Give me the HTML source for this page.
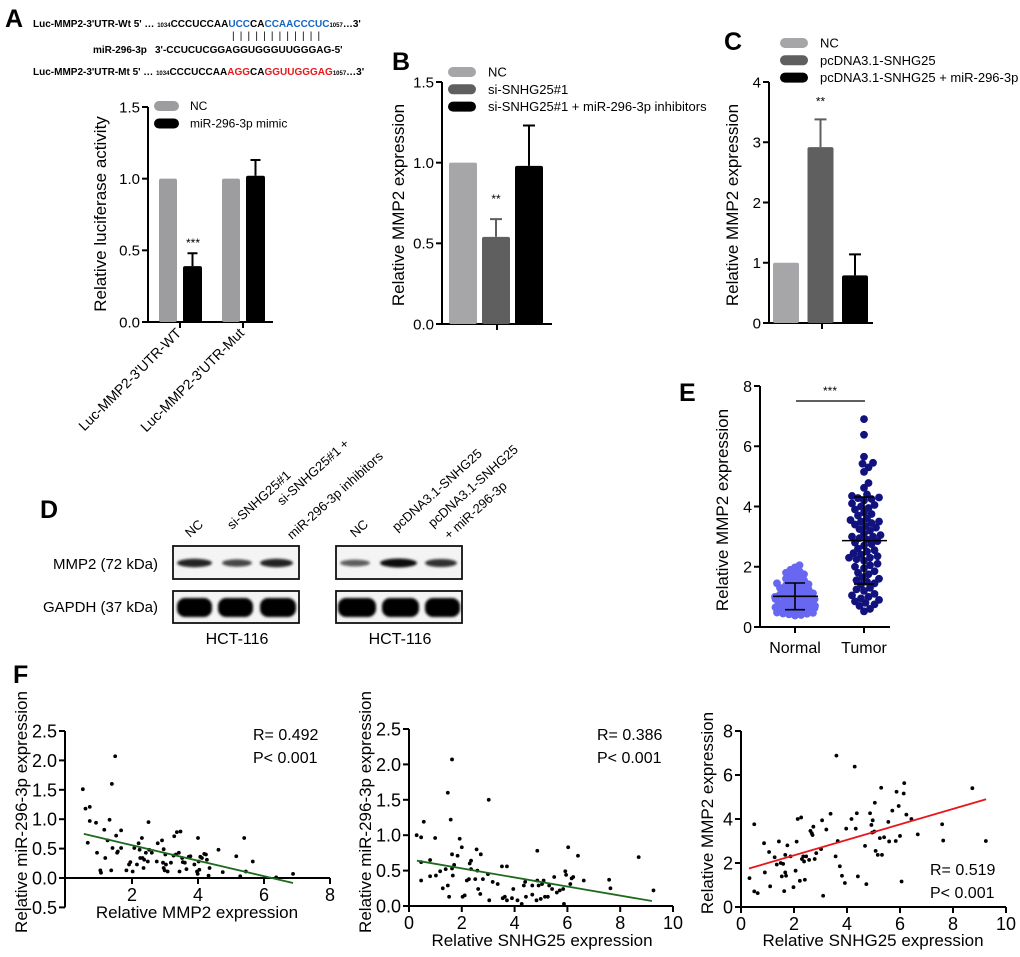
<!DOCTYPE html>
<html><head><meta charset="utf-8"><style>
html,body{margin:0;padding:0;background:#fff;}
svg{display:block;font-family:"Liberation Sans",Arial,sans-serif;}
</style></head><body>
<svg id="fig" width="1020" height="957" viewBox="0 0 1020 957" xmlns="http://www.w3.org/2000/svg">
<defs>
<filter id="blur1" x="-20%" y="-50%" width="140%" height="200%"><feGaussianBlur stdDeviation="1.3"/></filter>
</defs>
<g font-weight="bold" font-size="25" fill="#000">
<text x="5" y="27">A</text>
<text x="392" y="70">B</text>
<text x="724" y="50">C</text>
<text x="40" y="518">D</text>
<text x="679" y="401">E</text>
<text x="13" y="683">F</text>
</g>
<g font-weight="bold" font-size="10">
<text x="33" y="27">Luc-MMP2-3'UTR-Wt 5' … <tspan font-size="6">1034</tspan>CCCUCCAA<tspan fill="#1565c0">UCC</tspan>CA<tspan fill="#1565c0">CCAACCCUC</tspan><tspan font-size="6">1057</tspan>…3'</text>
<text x="232" y="39" font-weight="normal" font-size="10" letter-spacing="1.2">| | |      | | | | | | | | |</text>
<text x="93" y="53">miR-296-3p</text>
<text x="155" y="53">3'-CCUCUCGGAGGUGGGUUGGGAG-5'</text>
<text x="33" y="75">Luc-MMP2-3'UTR-Mt 5' … <tspan font-size="6">1034</tspan>CCCUCCAA<tspan fill="#e8161b">AGG</tspan>CA<tspan fill="#e8161b">GGUUGGGAG</tspan><tspan font-size="6">1057</tspan>…3'</text>
</g>
<g id="root"></g>
</svg>
<script>
// ---- Panel A data ----
const aCats = ["Luc-MMP2-3'UTR-WT", "Luc-MMP2-3'UTR-Mut"];
const aNC = [1.0, 1.0];
const aMimic = [0.39, 1.02];
const aMimicErr = [0.09, 0.11];
const aTicks = [0, 0.5, 1.0, 1.5];
const aTickLabels = ["0.0", "0.5", "1.0", "1.5"];
// ---- Panel B data ----
const bGroups = ["NC", "si-SNHG25#1", "si-SNHG25#1 + miR-296-3p inhibitors"];
const bVals = [1.0, 0.54, 0.98];
const bErr = [0, 0.11, 0.25];
const bTicks = [0, 0.5, 1.0, 1.5];
const bTickLabels = ["0.0", "0.5", "1.0", "1.5"];
// ---- Panel C data ----
const cGroups = ["NC", "pcDNA3.1-SNHG25", "pcDNA3.1-SNHG25 + miR-296-3p"];
const cVals = [1.0, 2.92, 0.79];
const cErr = [0, 0.46, 0.35];
const cTicks = [0, 1, 2, 3, 4];
// ---- Panel E data ----
const eNormal = [2.05,1.98,1.9,1.85,1.8,1.78,1.75,1.7,1.65,1.6,1.58,1.55,1.5,1.48,1.45,1.42,1.4,1.38,1.35,1.32,1.3,1.28,1.25,1.22,1.2,1.18,1.15,1.12,1.1,1.08,1.05,1.03,1.0,1.0,0.98,0.96,0.95,0.93,0.92,0.9,0.88,0.87,0.85,0.84,0.82,0.8,0.8,0.78,0.77,0.75,0.74,0.72,0.7,0.7,0.68,0.66,0.65,0.63,0.62,0.6,0.6,0.58,0.56,0.55,0.53,0.52,0.5,0.5,0.48,0.47,0.45,0.44,0.42,0.4,0.38];
const eTumor = [6.9,6.38,5.65,5.45,5.42,5.3,5.15,4.78,4.62,4.4,4.35,4.3,4.28,4.25,4.2,4.1,4.05,4.0,3.95,3.9,3.8,3.75,3.7,3.6,3.55,3.5,3.5,3.45,3.4,3.35,3.3,3.25,3.2,3.1,3.05,3.0,3.0,2.95,2.9,2.85,2.8,2.75,2.7,2.6,2.55,2.5,2.45,2.4,2.35,2.3,2.3,2.25,2.2,2.1,2.05,2.0,1.95,1.85,1.8,1.75,1.65,1.6,1.55,1.5,1.45,1.4,1.3,1.25,1.2,1.1,1.05,1.0,0.95,0.9,0.85,0.8,0.75,0.7,0.6,0.52];
const eTicks = [0, 2, 4, 6, 8];
// ---- Panel F1 data (MMP2 vs miR-296-3p) ----
const f1X = [0.51,0.59,0.66,0.72,0.72,0.91,0.94,1.04,1.06,1.16,1.19,1.26,1.32,1.37,1.39,1.41,1.49,1.52,1.55,1.57,1.67,1.67,1.83,1.91,1.95,2.02,2.07,2.15,2.2,2.23,2.25,2.3,2.32,2.35,2.37,2.42,2.48,2.5,2.52,2.6,2.75,2.78,2.91,2.94,2.96,2.96,2.99,3.01,3.03,3.08,3.18,3.26,3.28,3.33,3.36,3.42,3.44,3.47,3.52,3.54,3.6,3.65,3.72,3.77,3.89,3.97,3.99,4.0,4.02,4.04,4.07,4.12,4.19,4.24,4.27,4.32,4.35,4.62,4.75,5.16,5.28,5.4,5.45,5.66,6.37,6.88];
const f1Y = [1.51,1.18,0.6,1.21,0.97,0.94,0.43,0.13,0.09,0.82,0.34,0.64,0.99,0.13,1.6,0.51,2.07,0.72,0.43,0.45,0.81,0.51,0.13,0.23,0.27,0.11,0.51,0.23,0.59,0.48,0.34,0.68,0.34,0.17,0.31,0.43,0.28,0.95,0.48,0.43,0.28,0.59,0.64,0.26,0.49,0.17,0.13,0.4,0.23,0.11,0.26,0.38,0.71,0.4,0.78,0.43,0.11,0.79,0.34,0.27,0.26,0.15,0.36,0.37,0.23,0.11,0.07,0.68,0.28,0.14,0.36,0.34,0.41,0.4,0.31,0.04,0.17,0.48,0.1,0.37,0.03,0.68,0.11,0.28,0.01,0.07];
const f1Fit = [[0.54, 0.75], [6.88, -0.085]];
const f1XTicks = [2, 4, 6, 8];
const f1YTicks = [-0.5, 0, 0.5, 1.0, 1.5, 2.0, 2.5];
const f1YTickLabels = ["-0.5", "0.0", "0.5", "1.0", "1.5", "2.0", "2.5"];
const f1Stats = ["R= 0.492", "P< 0.001"];
// ---- Panel F2 data (SNHG25 vs miR-296-3p) ----
const f2X = [0.29,0.46,0.46,0.46,0.56,0.8,0.8,0.99,1.02,1.18,1.28,1.39,1.47,1.47,1.52,1.58,1.63,1.63,1.63,1.66,1.71,1.84,1.92,2.0,2.03,2.11,2.19,2.27,2.3,2.35,2.35,2.51,2.56,2.59,2.62,2.7,2.72,2.8,2.99,3.02,3.04,3.17,3.36,3.52,3.55,3.63,3.71,3.71,3.9,3.95,4.11,4.27,4.35,4.4,4.43,4.67,4.67,4.83,4.86,4.86,4.91,4.99,5.04,5.1,5.15,5.26,5.31,5.42,5.5,5.6,5.71,5.84,5.87,5.92,5.95,6.03,6.11,6.16,6.22,6.4,6.62,7.58,7.63,8.7,9.26];
const f2Y = [1.0,0.97,0.62,0.36,1.19,0.65,0.42,0.96,0.43,0.49,0.25,0.52,1.6,0.29,0.13,1.22,2.07,0.73,0.53,0.43,0.58,0.71,0.95,0.83,0.13,0.15,0.36,0.38,0.6,0.64,0.52,0.38,0.8,0.5,0.24,0.17,0.73,0.38,0.45,1.5,0.08,0.34,0.31,0.56,0.11,0.13,0.56,0.08,0.11,0.24,0.08,0.03,0.29,0.34,0.13,0.16,0.29,0.08,0.78,0.36,0.29,0.1,0.31,0.36,0.13,0.13,0.29,0.24,0.41,0.19,0.22,0.24,0.03,0.49,0.44,0.83,0.31,0.39,0.41,0.71,0.36,0.37,0.25,0.69,0.22];
const f2Fit = [[0.3, 0.64], [9.2, 0.07]];
const f2XTicks = [0, 2, 4, 6, 8, 10];
const f2YTicks = [0, 0.5, 1.0, 1.5, 2.0, 2.5];
const f2YTickLabels = ["0.0", "0.5", "1.0", "1.5", "2.0", "2.5"];
const f2Stats = ["R= 0.386", "P< 0.001"];
// ---- Panel F3 data (SNHG25 vs MMP2) ----
const f3X = [0.32,0.5,0.5,0.63,0.87,0.9,1.06,1.1,1.27,1.35,1.43,1.5,1.54,1.59,1.67,1.67,1.7,1.75,1.63,1.87,1.98,2.06,2.1,2.14,2.27,2.22,2.3,2.35,2.38,2.41,2.46,2.57,2.62,2.67,2.73,2.7,2.78,2.84,3.02,3.06,3.1,3.22,3.38,3.57,3.6,3.65,3.73,3.81,3.92,3.97,4.17,4.29,4.33,4.37,4.41,4.68,4.73,4.87,4.92,4.95,4.97,5.03,5.05,5.08,5.16,5.24,5.29,5.32,5.4,5.56,5.59,5.71,5.84,5.87,5.95,6.0,6.06,6.16,6.14,6.24,6.43,6.67,7.59,7.63,8.73,9.24];
const f3Y = [1.31,3.76,0.71,0.63,2.9,1.57,2.5,0.94,2.26,1.93,2.98,2.0,1.39,1.96,2.37,1.57,1.42,2.8,0.72,2.3,0.9,1.65,2.97,4.0,4.07,1.19,2.18,2.3,2.07,1.24,2.3,2.14,3.46,3.35,3.65,3.27,2.18,2.45,2.63,3.94,0.51,3.52,4.24,2.3,6.88,3.0,1.85,1.42,1.09,3.56,4.0,6.38,3.56,4.26,1.39,2.78,1.04,4.26,3.73,3.38,3.94,3.43,4.74,2.55,2.37,3.13,5.42,2.37,3.17,3.87,2.98,4.38,3.0,5.24,4.59,3.23,1.16,5.63,5.16,4.2,4.0,3.3,3.76,3.02,5.4,3.0];
const f3Fit = [[0.3, 1.75], [9.25, 4.9]];
const f3XTicks = [0, 2, 4, 6, 8, 10];
const f3YTicks = [0, 2, 4, 6, 8];
const f3Stats = ["R= 0.519", "P< 0.001"];

const NS = "http://www.w3.org/2000/svg";
const root = document.getElementById("root");
function mk(tag, attrs, parent) {
  const el = document.createElementNS(NS, tag);
  for (const k in attrs) el.setAttribute(k, attrs[k]);
  (parent || root).appendChild(el);
  return el;
}
function lin(d0, d1, r0, r1) { return v => r0 + (v - d0) * (r1 - r0) / (d1 - d0); }
function txt(x, y, s, size, extra, parent) {
  const a = Object.assign({x: x, y: y, "font-size": size, fill: "#000"}, extra || {});
  const t = mk("text", a, parent);
  t.textContent = s;
  return t;
}
function yAxis(g, x, y, ticks, labels, size, name) {
  const ax = mk("line", {x1: x, x2: x, y1: y(ticks[0]), y2: y(ticks[ticks.length - 1]), stroke: "#000", "stroke-width": 2}, g);
  
  
  ticks.forEach((t, i) => {
    const tk = mk("line", {x1: x - 6, x2: x, y1: y(t), y2: y(t), stroke: "#000", "stroke-width": 2}, g);
    
    
    const lb = txt(x - 8, y(t) + size * 0.36, labels[i], size, {"text-anchor": "end"}, g);
    
    
  });
}

// ================= Panel A =================
(function () {
  const g = mk("g", {});
  
  
  const y = lin(0, 1.5, 322, 107);
  yAxis(g, 148, y, aTicks, aTickLabels, 15, 'panel-a');
  const xa = mk("line", {x1: 147, x2: 273, y1: y(0), y2: y(0), stroke: "#000", "stroke-width": 2}, g);
  
  
  aCats.forEach((c, i) => {
    const cx = 180 + 63 * i;
    const b1 = mk("rect", {x: cx - 21, y: y(aNC[i]), width: 18, height: y(0) - y(aNC[i]), fill: "#9d9d9f", rx: 2}, g);
    
    
    const top = aMimic[i] + aMimicErr[i];
    const e = mk("path", {d: `M${cx + 12.5},${y(aMimic[i])}V${y(top)}M${cx + 7.5},${y(top)}H${cx + 17.5}`, stroke: "#000", "stroke-width": 2, fill: "none"}, g);
    
    
    const b2 = mk("rect", {x: cx + 3, y: y(aMimic[i]), width: 19, height: y(0) - y(aMimic[i]), fill: "#000", rx: 2}, g);
    
    
    const tk = mk("line", {x1: cx, x2: cx, y1: y(0), y2: y(0) + 6, stroke: "#000", "stroke-width": 2}, g);
    
    
    const lb = txt(cx + 2, y(0) + 12, c, 14, {"text-anchor": "end", transform: `rotate(-45 ${cx + 2} ${y(0) + 12})`}, g);
    
    
  });
  const st = txt(193, y(aMimic[0] + aMimicErr[0]) - 6, "***", 12, {"text-anchor": "middle"}, g);
  
  
  const yl = txt(0, 0, "Relative luciferase activity", 17, {"text-anchor": "middle", transform: "translate(106 214) rotate(-90)"}, g);
  
  
  const lg = [["NC", "#9d9d9f"], ["miR-296-3p mimic", "#000"]];
  lg.forEach((l, i) => {
    const r = mk("rect", {x: 154, y: 101 + 17.5 * i, width: 25, height: 10, rx: 5, fill: l[1]}, g);
    
    
    const t = txt(190, 110 + 17.5 * i, l[0], 12, {}, g);
    
    
  });
})();

// ================= Panels B & C =================
function groupBars(cfg) {
  const g = mk("g", {});
  
  
  const y = cfg.y;
  yAxis(g, cfg.ax, y, cfg.ticks, cfg.tickLabels, 15, cfg.name);
  const xa = mk("line", {x1: cfg.ax - 1, x2: cfg.xEnd, y1: y(0), y2: y(0), stroke: "#000", "stroke-width": 2}, g);
  
  
  const tk = mk("line", {x1: cfg.tickX, x2: cfg.tickX, y1: y(0), y2: y(0) + 6, stroke: "#000", "stroke-width": 2}, g);
  
  
  const colors = ["#a6a6a8", "#5f5f5f", "#000"];
  cfg.vals.forEach((v, i) => {
    const bx = cfg.x0 + cfg.step * i;
    if (cfg.err[i] > 0) {
      const top = v + cfg.err[i];
      const e = mk("path", {d: `M${bx + cfg.w / 2},${y(v)}V${y(top)}M${bx + cfg.w / 2 - 6},${y(top)}H${bx + cfg.w / 2 + 6}`, stroke: colors[i], "stroke-width": 2, fill: "none"}, g);
      
      
    }
    const b = mk("rect", {x: bx, y: y(v), width: cfg.w, height: y(0) - y(v), fill: colors[i], rx: 2}, g);
    
    
  });
  const si = cfg.vals[1] + cfg.err[1];
  const st = txt(cfg.x0 + cfg.step + cfg.w / 2, y(si) - cfg.starGap, "**", 12, {"text-anchor": "middle"}, g);
  
  
  const yl = txt(0, 0, "Relative MMP2 expression", 17, {"text-anchor": "middle", transform: `translate(${cfg.ylx} ${cfg.yly}) rotate(-90)`}, g);
  
  
  cfg.groups.forEach((l, i) => {
    const r = mk("rect", {x: cfg.lx, y: cfg.ly + 17.3 * i - 5, width: 28, height: 10, rx: 5, fill: colors[i]}, g);
    
    
    const t = txt(cfg.lx + 40, cfg.ly + 17.3 * i + 4.5, l, 13, {}, g);
    
    
  });
}
groupBars({name: 'panel-b-chart', y: lin(0, 1.5, 324, 82), ax: 442, xEnd: 552, tickX: 497, vals: bVals, err: bErr, ticks: bTicks, tickLabels: bTickLabels, x0: 449, step: 33, w: 28, starGap: 16, ylx: 404, yly: 205, lx: 448, ly: 72, groups: bGroups});
groupBars({name: 'panel-c-chart', y: lin(0, 4, 323, 82), ax: 769, xEnd: 873, tickX: 822, vals: cVals, err: cErr, ticks: cTicks, tickLabels: cTicks.map(String), x0: 773, step: 34.5, w: 26, starGap: 14, ylx: 738, yly: 205, lx: 780, ly: 43, groups: cGroups});

// ================= Panel D (western blot) =================
(function () {
  const g = mk("g", {});
  
  
  const boxes = [{x: 173, lanes: [[177, 212, 0.85], [222, 252, 0.6], [260, 293, 0.85]], glanes: [[177, 212], [218, 253], [260, 296]]},
                 {x: 336, lanes: [[340, 370, 0.45], [380, 417, 1], [425, 457, 0.75]], glanes: [[338, 376], [382, 419], [425, 460]]}];
  boxes.forEach((b, bi) => {
    [[546, 33], [591, 32]].forEach((r, ri) => {
      const box = mk("rect", {x: b.x, y: r[0], width: 126, height: r[1], fill: "#f4f4f4", stroke: "#111", "stroke-width": 1.8}, g);
      
      
    });
    b.lanes.forEach(l => {
      const e = mk("ellipse", {cx: (l[0] + l[1]) / 2, cy: 563, rx: (l[1] - l[0]) / 2, ry: 2.5 + 2 * l[2], fill: "#000", opacity: 0.35 + 0.6 * l[2], filter: "url(#blur1)"}, g);
      
      
    });
    b.glanes.forEach(l => {
      const e = mk("rect", {x: l[0], y: 598, width: l[1] - l[0], height: 19, rx: 8, fill: "#000", filter: "url(#blur1)"}, g);
      
      
    });
    const h = txt(b.x + 64, 644, "HCT-116", 16, {"text-anchor": "middle"}, g);
    
    
  });
  const l1 = txt(158, 569, "MMP2 (72 kDa)", 15, {"text-anchor": "end"}, g);
  
  
  const l2 = txt(158, 612, "GAPDH (37 kDa)", 15, {"text-anchor": "end"}, g);
  
  
  const lanes = [[190, 538, "NC"], [232, 530, "si-SNHG25#1"], [282, 506, "si-SNHG25#1 +"], [292, 540, "miR-296-3p inhibitors"],
                 [355, 538, "NC"], [397, 532, "pcDNA3.1-SNHG25"], [433, 528, "pcDNA3.1-SNHG25"], [449, 540, "+ miR-296-3p"]];
  lanes.forEach(l => {
    const t = txt(l[0], l[1], l[2], 13, {transform: `rotate(-42 ${l[0]} ${l[1]})`}, g);
    
    
  });
})();

// ================= Panel E (dot plot) =================
(function () {
  const g = mk("g", {});
  
  
  const y = lin(0, 8, 627, 386);
  yAxis(g, 760, y, eTicks, eTicks.map(String), 16, 'panel-e');
  const xa = mk("line", {x1: 759, x2: 890, y1: y(0), y2: y(0), stroke: "#000", "stroke-width": 2}, g);
  
  
  const groups = [[eNormal, 795, "#6767f2", "Normal", 0.62], [eTumor, 864, "#12127f", "Tumor", 0.8]];
  const r = 3.9;
  groups.forEach(gr => {
    const vals = gr[0].slice().sort((a, b) => a - b);
    const placed = [];
    vals.forEach((v, idx) => {
      const py = y(v);
      let dx = null;
      for (let k = 0; k < 60; k++) {
        const cand = (k % 2 ? 1 : -1) * Math.ceil(k / 2) * 1.5;
        if (Math.abs(cand) > 20) break;
        if (placed.every(p => Math.hypot(p[0] - cand, p[1] - py) >= 2 * r * gr[4])) { dx = cand; break; }
      }
      if (dx === null) dx = ((idx * 13) % 41) - 20;
      placed.push([dx, py]);
      const c = mk("circle", {cx: gr[1] + dx, cy: py, r: r, fill: gr[2]}, g);
      
      
    });
    const n = gr[0].length;
    const mean = gr[0].reduce((a, b) => a + b, 0) / n;
    const sd = Math.sqrt(gr[0].reduce((a, b) => a + (b - mean) * (b - mean), 0) / (n - 1));
    const m = mk("path", {d: `M${gr[1] - 22},${y(mean)}H${gr[1] + 23}M${gr[1]},${y(mean - sd)}V${y(mean + sd)}M${gr[1] - 10},${y(mean - sd)}H${gr[1] + 10}M${gr[1] - 10},${y(mean + sd)}H${gr[1] + 10}`, stroke: "#000", "stroke-width": 1.6, fill: "none"}, g);
    
    
    const tk = mk("line", {x1: gr[1], x2: gr[1], y1: y(0), y2: y(0) + 6, stroke: "#000", "stroke-width": 2}, g);
    
    
    const lb = txt(gr[1], 653, gr[3], 16, {"text-anchor": "middle"}, g);
    
    
  });
  const sl = mk("line", {x1: 796, x2: 865, y1: 401, y2: 401, stroke: "#000", "stroke-width": 1.3}, g);
  
  
  const st = txt(830, 395, "***", 12, {"text-anchor": "middle"}, g);
  
  
  const yl = txt(0, 0, "Relative MMP2 expression", 17, {"text-anchor": "middle", transform: "translate(728 510) rotate(-90)"}, g);
  
  
})();

// ================= Panel F (scatter plots) =================
function scatter(cfg) {
  const g = mk("g", {});
  
  
  const x = cfg.x, y = cfg.y;
  yAxis(g, cfg.ax, y, cfg.yTicks, cfg.yLabels, 18, cfg.name);
  const xa = mk("line", {x1: cfg.ax - 1, x2: x(cfg.xMax), y1: cfg.xAxisY, y2: cfg.xAxisY, stroke: "#000", "stroke-width": 2}, g);
  
  
  cfg.xTicks.forEach(t => {
    const tk = mk("line", {x1: x(t), x2: x(t), y1: cfg.xAxisY, y2: cfg.xAxisY + 6, stroke: "#000", "stroke-width": 2}, g);
    
    
    const lb = txt(x(t), cfg.xAxisY + 23, String(t), 18, {"text-anchor": "middle"}, g);
    
    
  });
  cfg.xs.forEach((v, i) => {
    const c = mk("circle", {cx: x(v), cy: y(cfg.ys[i]), r: 1.9, fill: "#000"}, g);
    
    
  });
  const fl = mk("line", {x1: x(cfg.fit[0][0]), y1: y(cfg.fit[0][1]), x2: x(cfg.fit[1][0]), y2: y(cfg.fit[1][1]), stroke: cfg.lineColor, "stroke-width": 1.8}, g);
  
  
  cfg.stats.forEach((s, i) => {
    const t = txt(cfg.sx, cfg.sy + 23 * i, s, 16, {}, g);
    
    
  });
  const xl = txt(cfg.xlx, cfg.xly, cfg.xTitle, 17, {"text-anchor": "middle"}, g);
  
  
  const yl = txt(0, 0, cfg.yTitle, 17, {"text-anchor": "middle", transform: `translate(${cfg.ylx} ${cfg.yly}) rotate(-90)`}, g);
  
  
}
scatter({name: 'panel-f1-scatter', x: lin(0, 8, 66, 330), y: lin(0, 2.5, 878, 731), ax: 65, xMax: 8, xAxisY: 878, xTicks: f1XTicks, yTicks: f1YTicks, yLabels: f1YTickLabels, xs: f1X, ys: f1Y, fit: f1Fit, lineColor: "#1e6b1e", stats: f1Stats, sx: 253, sy: 740, xlx: 197, xly: 918, xTitle: "Relative MMP2 expression", ylx: 27, yly: 812, yTitle: "Relative miR-296-3p expression"});
scatter({name: 'panel-f2-scatter', x: lin(0, 10, 409, 673), y: lin(0, 2.5, 906, 729), ax: 409, xMax: 10, xAxisY: 906, xTicks: f2XTicks, yTicks: f2YTicks, yLabels: f2YTickLabels, xs: f2X, ys: f2Y, fit: f2Fit, lineColor: "#1e6b1e", stats: f2Stats, sx: 597, sy: 740, xlx: 542, xly: 946, xTitle: "Relative SNHG25 expression", ylx: 371, yly: 812, yTitle: "Relative miR-296-3p expression"});
scatter({name: 'panel-f3-scatter', x: lin(0, 10, 741, 1006), y: lin(0, 8, 907, 731), ax: 741, xMax: 10, xAxisY: 907, xTicks: f3XTicks, yTicks: f3YTicks, yLabels: f3YTicks.map(String), xs: f3X, ys: f3Y, fit: f3Fit, lineColor: "#e8161b", stats: f3Stats, sx: 930, sy: 875, xlx: 873, xly: 946, xTitle: "Relative SNHG25 expression", ylx: 713, yly: 813, yTitle: "Relative MMP2 expression"});
</script>
</body></html>
